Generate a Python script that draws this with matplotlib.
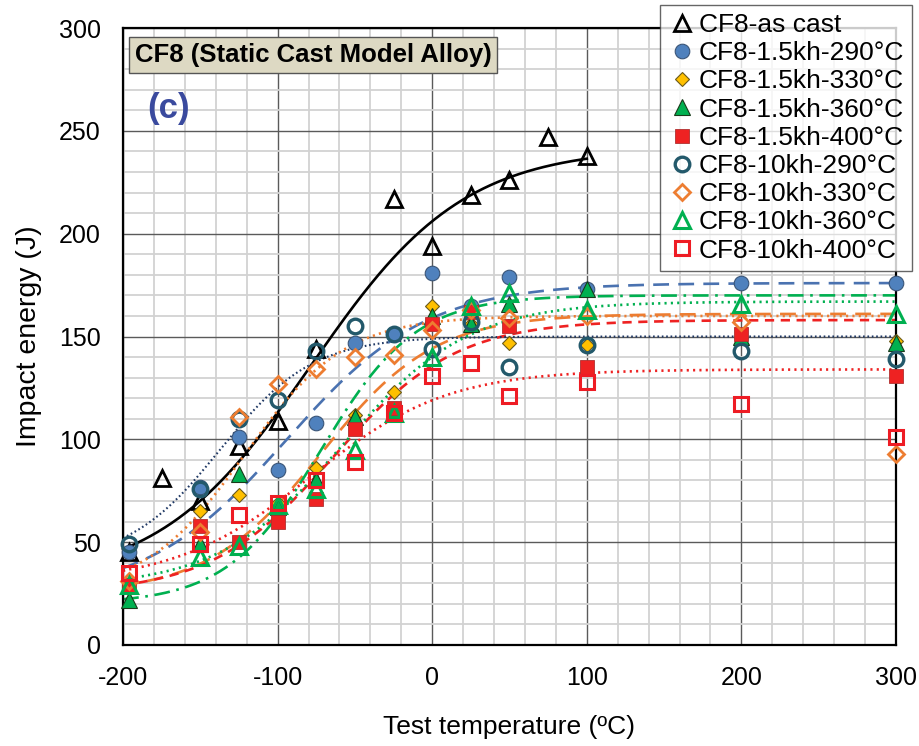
import numpy as np
import matplotlib
matplotlib.use("Agg")
import matplotlib.pyplot as plt
from matplotlib.ticker import MultipleLocator

plt.rcParams['font.family'] = ['Liberation Sans', 'DejaVu Sans']
plt.rcParams['axes.unicode_minus'] = False

# ---- Charpy impact data: test temperature (degC) vs impact energy (J) ----
labels = ["CF8-as cast", "CF8-1.5kh-290°C", "CF8-1.5kh-330°C", "CF8-1.5kh-360°C",
          "CF8-1.5kh-400°C", "CF8-10kh-290°C", "CF8-10kh-330°C", "CF8-10kh-360°C",
          "CF8-10kh-400°C"]

t_as_cast = [-196, -175, -150, -125, -100, -75, -25, 0, 25, 50, 75, 100]
e_as_cast = [45, 81, 70, 97, 109, 144, 217, 194, 219, 226, 247, 238]

t_15_290 = [-196, -150, -125, -100, -75, -50, -25, 0, 25, 50, 100, 200, 300]
e_15_290 = [45, 77, 101, 85, 108, 147, 151, 181, 165, 179, 173, 176, 176]

t_15_330 = [-196, -150, -125, -100, -75, -50, -25, 0, 25, 50, 100, 200, 300]
e_15_330 = [30, 65, 73, 69, 86, 112, 123, 165, 156, 147, 146, 150, 148]

t_15_360 = [-196, -150, -125, -100, -75, -50, -25, 0, 25, 50, 100, 200, 300]
e_15_360 = [22, 49, 83, 67, 80, 111, 114, 160, 156, 166, 173, 150, 147]

t_15_400 = [-196, -150, -125, -100, -75, -50, -25, 0, 25, 50, 100, 200, 300]
e_15_400 = [29, 58, 50, 60, 71, 105, 115, 156, 162, 155, 135, 151, 131]

t_10_290 = [-196, -150, -125, -100, -75, -50, -25, 0, 25, 50, 100, 200, 300]
e_10_290 = [49, 76, 110, 119, 143, 155, 151, 144, 157, 135, 146, 143, 139]

t_10_330 = [-196, -150, -125, -100, -75, -50, -25, 0, 25, 50, 100, 200, 300]
e_10_330 = [31, 55, 111, 127, 134, 140, 141, 153, 163, 159, 160, 157, 93]

t_10_360 = [-196, -150, -125, -100, -75, -50, -25, 0, 25, 50, 100, 200, 300]
e_10_360 = [29, 43, 48, 68, 76, 95, 113, 140, 165, 171, 163, 166, 161]

t_10_400 = [-196, -150, -125, -100, -75, -50, -25, 0, 25, 50, 100, 200, 300]
e_10_400 = [35, 49, 63, 69, 80, 89, 113, 131, 137, 121, 128, 117, 101]

# Hyperbolic-tangent fit parameters: lower shelf, upper shelf, T0, C
fit_lower = [30, 24, 25, 20, 25, 40, 25, 28, 30]
fit_upper = [242, 176, 161, 170, 158, 150, 160, 167, 134]
fit_t0 = [-78.3, -94, -72, -71.8, -63.9, -137.2, -121.4, -57.7, -78.4]
fit_c = [98.6, 90.7, 73.5, 61.3, 79.3, 59.9, 65, 81.1, 88.1]
fit_tmax = [100, 300, 300, 300, 300, 300, 300, 300, 300]

temps = [t_as_cast, t_15_290, t_15_330, t_15_360, t_15_400,
         t_10_290, t_10_330, t_10_360, t_10_400]
energies = [e_as_cast, e_15_290, e_15_330, e_15_360, e_15_400,
            e_10_290, e_10_330, e_10_360, e_10_400]

# marker styles: (marker, size, face, edge, edge width)
marker_styles = [
    ('^', 11, 'none', 'black', 2.0),
    ('o', 10.5, '#4f81bd', '#3a5578', 0.8),
    ('D', 7.0, '#ffc000', '#6b5a1a', 0.8),
    ('^', 11, '#00b050', '#1a3a1a', 0.8),
    ('s', 10, '#ee2222', '#b03030', 0.6),
    ('o', 10.5, 'none', '#23596b', 2.4),
    ('D', 8.0, 'none', '#ed7d31', 2.0),
    ('^', 11, 'none', '#00b050', 2.2),
    ('s', 9.5, 'none', '#ee1c24', 2.2),
]

# fit line styles: (colour, dash pattern, width)
line_styles = [
    ('black', '-', 1.9),
    ('#4a72b0', (0, (6, 3.5)), 1.9),
    ('#ed7d31', (0, (6, 3.5)), 1.9),
    ('#00b050', (0, (6, 2.5, 1, 2.5)), 1.9),
    ('#ee2222', (0, (3.5, 2.5)), 1.9),
    ('#1f3864', (0, (0.8, 1.3)), 1.5),
    ('#ed7d31', (0, (0.8, 1.6)), 1.9),
    ('#00b050', (0, (0.8, 1.6)), 1.9),
    ('#ee2222', (0, (0.8, 1.6)), 1.9),
]

fig = plt.figure(figsize=(9.2, 7.46), dpi=100)
ax = fig.add_axes([123 / 920, 1 - 645 / 746, 773 / 920, 617 / 746])

ax.set_xlim(-200, 300)
ax.set_ylim(0, 300)
ax.xaxis.set_major_locator(MultipleLocator(100))
ax.yaxis.set_major_locator(MultipleLocator(50))
ax.xaxis.set_minor_locator(MultipleLocator(20))
ax.yaxis.set_minor_locator(MultipleLocator(10))
ax.grid(which='minor', color='#d2d2d2', lw=1.3, zorder=0)
ax.grid(which='major', color='#5a5a5a', lw=1.0, zorder=0)
ax.set_axisbelow(True)
ax.tick_params(which='both', length=0)
ax.tick_params(axis='x', pad=15, labelsize=18)
ax.tick_params(axis='y', pad=16, labelsize=18)
for s in ax.spines.values():
    s.set_linewidth(1.6)
    s.set_color('black')

# tanh fit curves
for i in range(len(labels)):
    tt = np.linspace(-200, fit_tmax[i], 400)
    a = (fit_upper[i] + fit_lower[i]) / 2
    b = (fit_upper[i] - fit_lower[i]) / 2
    ee = a + b * np.tanh((tt - fit_t0[i]) / fit_c[i])
    col, ls, lw = line_styles[i]
    ax.plot(tt, ee, color=col, linestyle=ls, lw=lw, zorder=2, clip_on=False)

# measured points
for i in range(len(labels)):
    m, ms, fc, ec, mew = marker_styles[i]
    ax.plot(temps[i], energies[i], linestyle='none', marker=m, ms=ms,
            markerfacecolor=fc, markeredgecolor=ec, markeredgewidth=mew,
            label=labels[i], zorder=3 + i, clip_on=False)

ax.set_xlabel("Test temperature (ºC)", fontsize=19, labelpad=18)
ax.set_ylabel("Impact energy (J)", fontsize=20.5, labelpad=12)

ax.text(0.2458, 0.956, "CF8 (Static Cast Model Alloy)", transform=ax.transAxes,
        ha='center', va='center', fontsize=18.5, fontweight='bold', zorder=20,
        bbox=dict(boxstyle='square,pad=0.22', facecolor='#ddd9c3',
                  edgecolor='#555555', lw=1.0))
ax.text(0.0595, 0.870, "(c)", transform=ax.transAxes, ha='center', va='center',
        fontsize=25, fontweight='bold', color='#3a4a9e', zorder=20)

leg = fig.legend(loc='upper right', bbox_to_anchor=(912 / 920, 1 - 5 / 746),
                 fontsize=19, frameon=True, fancybox=False, borderaxespad=0,
                 handlelength=1.0, handletextpad=0.15, labelspacing=0.16,
                 borderpad=0.3, numpoints=1)
leg.get_frame().set_edgecolor('#404040')
leg.get_frame().set_linewidth(1.0)
leg.set_zorder(30)

fig.savefig("out.png", dpi=100)
